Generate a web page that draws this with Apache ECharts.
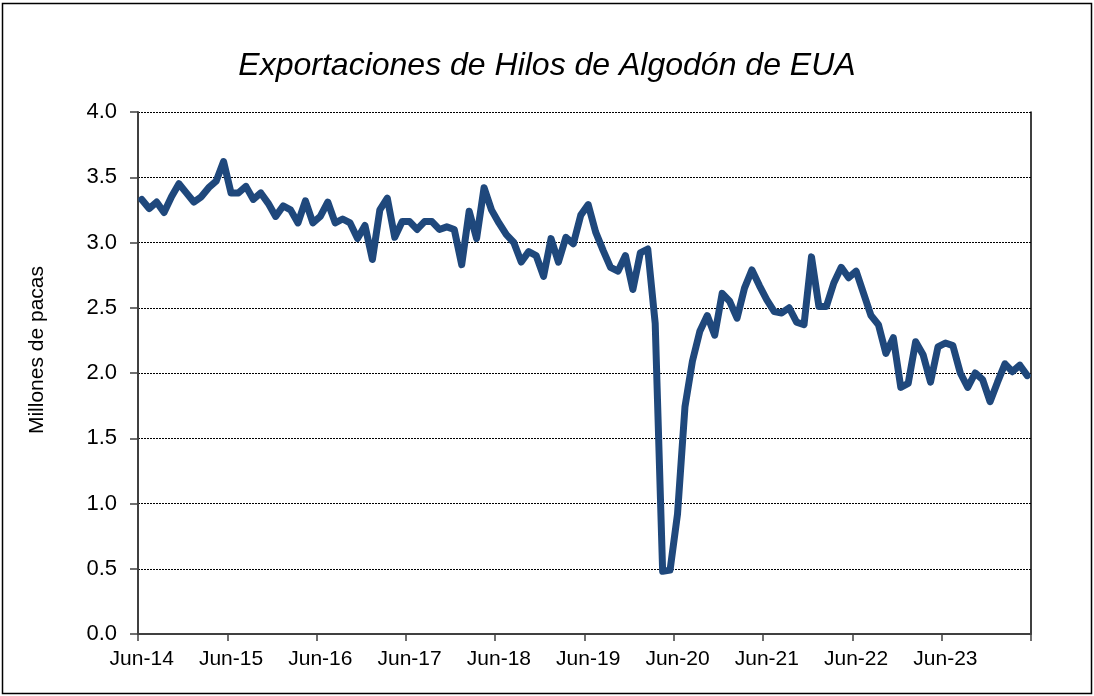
<!DOCTYPE html>
<html>
<head>
<meta charset="utf-8">
<title>Exportaciones de Hilos de Algodón de EUA</title>
<script src="https://cdn.jsdelivr.net/npm/echarts@6/dist/echarts.min.js"></script>
<style>
    html, body {margin: 0; padding: 0; background: #fff;}
    #chart {width: 1094px; height: 696px;}
</style>
</head>
<body>
<div id="chart"></div>
<script>
// 月份标签(Jun-14 ~ May-24)
var monthNames = ['Jun', 'Jul', 'Aug', 'Sep', 'Oct', 'Nov', 'Dec', 'Jan', 'Feb', 'Mar', 'Apr', 'May'];
var years = [14, 15, 16, 17, 18, 19, 20, 21, 22, 23];

// 出口量(百万包)
var exportsY14 = [3.33, 3.26, 3.31, 3.23, 3.35, 3.45, 3.38, 3.31, 3.35, 3.42, 3.47, 3.62];
var exportsY15 = [3.38, 3.38, 3.43, 3.33, 3.38, 3.30, 3.20, 3.28, 3.25, 3.15, 3.32, 3.15];
var exportsY16 = [3.20, 3.31, 3.15, 3.18, 3.15, 3.03, 3.13, 2.87, 3.25, 3.34, 3.04, 3.16];
var exportsY17 = [3.16, 3.10, 3.16, 3.16, 3.10, 3.12, 3.10, 2.83, 3.24, 3.03, 3.42, 3.25];
var exportsY18 = [3.15, 3.06, 3.00, 2.85, 2.93, 2.90, 2.74, 3.03, 2.85, 3.04, 2.99, 3.21];
var exportsY19 = [3.29, 3.08, 2.94, 2.81, 2.78, 2.90, 2.64, 2.92, 2.95, 2.38, 0.48, 0.49];
var exportsY20 = [0.92, 1.74, 2.09, 2.32, 2.44, 2.29, 2.61, 2.55, 2.42, 2.65, 2.79, 2.67];
var exportsY21 = [2.56, 2.47, 2.46, 2.50, 2.39, 2.37, 2.89, 2.51, 2.51, 2.69, 2.81, 2.73];
var exportsY22 = [2.78, 2.61, 2.44, 2.37, 2.15, 2.27, 1.89, 1.92, 2.24, 2.14, 1.93, 2.20];
var exportsY23 = [2.23, 2.21, 2.00, 1.89, 2.00, 1.95, 1.78, 1.93, 2.07, 2.01, 2.06, 1.98];

// y轴刻度
var yTicks = [0, 0.5, 1.0, 1.5, 2.0, 2.5, 3.0, 3.5, 4.0];

//拼接类目
function buildCategories() {
    var arr = [];
    for (var y = 0; y < years.length; y++) {
        for (var m = 0; m < 12; m++) {
            var yr = m < 7 ? years[y] : years[y] + 1;
            arr.push(monthNames[m] + '-' + yr);
        }
    }
    return arr;
}
var categories = buildCategories();
var exportsData = [].concat(exportsY14, exportsY15, exportsY16, exportsY17, exportsY18,
    exportsY19, exportsY20, exportsY21, exportsY22, exportsY23);

var myChart = echarts.init(document.getElementById('chart'), null, {renderer: 'canvas'});
var fontFamily = 'Liberation Sans, Arial, sans-serif';

var option = {
    backgroundColor: '#fff',
    animation: false,
    title: {
        text: 'Exportaciones de Hilos de Algodón de EUA',
        left: 'center',
        top: 45,
        textStyle: {
            fontFamily: fontFamily,
            fontStyle: 'italic',
            fontWeight: 'normal',
            fontSize: 32,
            color: '#000'
        }
    },
    graphic: [{
        // 外框
        type: 'rect',
        shape: {x: 2.5, y: 3.5, width: 1089, height: 690},
        style: {fill: 'none', stroke: '#000', lineWidth: 1.5},
        silent: true
    }, {
        // y轴标题
        type: 'text',
        x: 37,
        y: 350,
        rotation: Math.PI / 2,
        style: {
            text: 'Millones de pacas',
            font: '21px ' + fontFamily,
            fill: '#000',
            align: 'center',
            verticalAlign: 'middle'
        },
        silent: true
    }],
    grid: {
        left: 138,
        right: 63,
        top: 112,
        bottom: 62,
        containLabel: false
    },
    xAxis: {
        type: 'category',
        boundaryGap: true,
        data: categories,
        axisLine: {show: true, lineStyle: {color: '#404040', width: 2}},
        axisTick: {show: true, interval: 11, length: 7, lineStyle: {color: '#404040', width: 1.5}},
        axisLabel: {
            interval: 11,
            margin: 15,
            fontFamily: fontFamily,
            fontSize: 21,
            color: '#000'
        },
        splitLine: {show: false}
    },
    yAxis: [{
        type: 'value',
        min: 0,
        max: 4,
        interval: 0.5,
        axisLine: {show: true, lineStyle: {color: '#404040', width: 2}},
        axisTick: {show: true, length: 8, lineStyle: {color: '#404040', width: 1.5}},
        axisLabel: {
            margin: 21,
            fontFamily: fontFamily,
            fontSize: 22,
            color: '#000',
            formatter: function (v) {
                return yTicks.indexOf(v) >= 0 ? v.toFixed(1) : '';
            }
        },
        splitLine: {show: true, lineStyle: {color: '#000', width: 1, type: [2, 1]}}
    }, {
        // 右侧边框
        type: 'value',
        position: 'right',
        min: 0,
        max: 4,
        interval: 0.5,
        axisLine: {show: true, lineStyle: {color: '#000', width: 1.5}},
        axisTick: {show: false},
        axisLabel: {show: false},
        splitLine: {show: false}
    }],
    series: [{
        type: 'line',
        name: 'Exportaciones',
        data: exportsData,
        showSymbol: false,
        symbol: 'none',
        smooth: false,
        lineStyle: {color: '#1F487C', width: 7, cap: 'round', join: 'round'},
        itemStyle: {color: '#1F487C'}
    }]
};
myChart.setOption(option);
</script>
</body>
</html>
